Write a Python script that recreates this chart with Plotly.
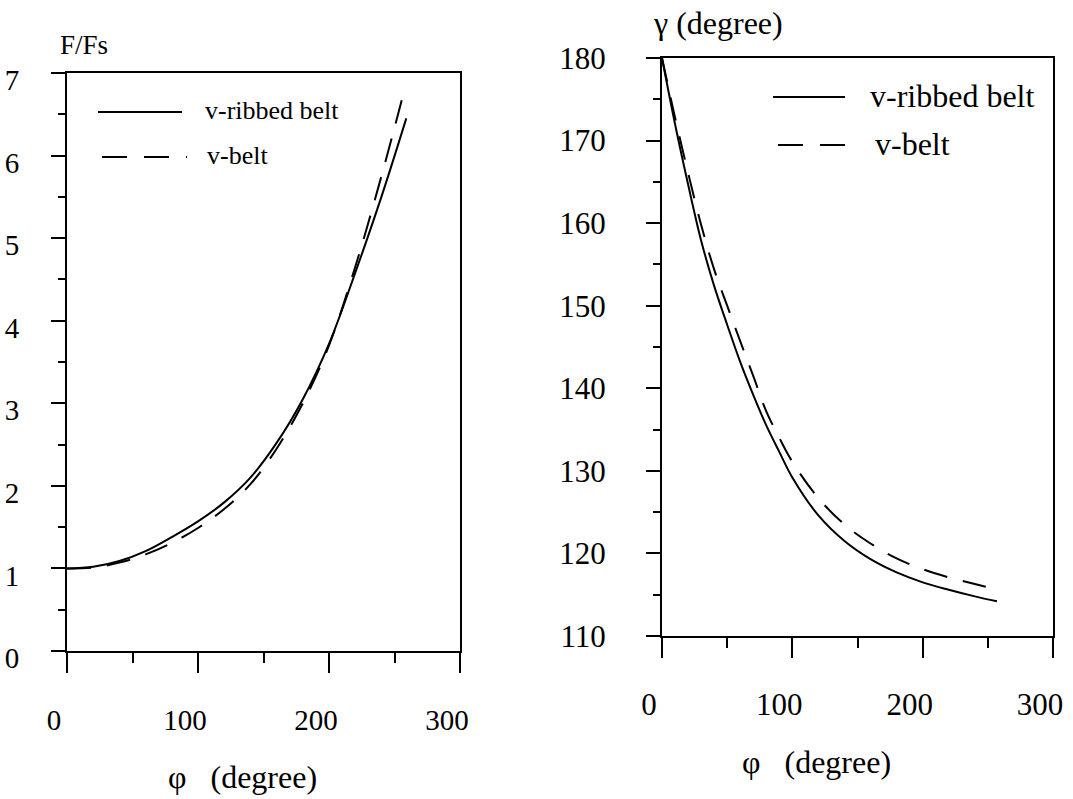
import plotly.graph_objects as go

W, H = 1073, 799

# ---------------- data ----------------
# Left panel: F/Fs versus wrap angle phi
phi_ribbed_F = [0, 20, 40, 60, 80, 100, 120, 140, 160, 180, 200, 220, 240, 259]
F_ribbed = [1.0, 1.02, 1.09, 1.21, 1.38, 1.57, 1.80, 2.10, 2.52, 3.05, 3.72, 4.58, 5.50, 6.45]
phi_vbelt_F = [0, 20, 40, 60, 80, 100, 120, 140, 160, 180, 200, 220, 240, 258]
F_vbelt = [1.0, 1.01, 1.07, 1.17, 1.31, 1.49, 1.72, 2.02, 2.45, 3.00, 3.70, 4.65, 5.75, 6.82]

# Right panel: gamma versus wrap angle phi
phi_ribbed_g = [0, 10, 20, 30, 40, 50, 60, 70, 80, 90, 100, 120, 140, 160, 180, 200, 220, 240, 257]
g_ribbed = [180, 172.0, 164.7, 157.9, 152.4, 147.7, 143.2, 139.2, 135.5, 132.3, 129.2,
            124.6, 121.5, 119.3, 117.7, 116.5, 115.6, 114.8, 114.2]
phi_vbelt_g = [0, 10, 20, 30, 40, 50, 60, 70, 80, 90, 100, 120, 140, 160, 180, 200, 220, 240, 253]
g_vbelt = [180, 172.8, 166.1, 159.8, 154.4, 150.0, 145.7, 141.5, 137.2, 134.0, 131.1,
           126.7, 123.5, 121.2, 119.4, 118.1, 117.1, 116.3, 115.8]

x_ticks = [0, 100, 200, 300]
left_y_ticks = [0, 1, 2, 3, 4, 5, 6, 7]
right_y_ticks = [110, 120, 130, 140, 150, 160, 170, 180]
series_names = ["v-ribbed belt", "v-belt"]

# ---------------- helpers ----------------
def px(x):
    return x / W

def py(y):
    return 1 - y / H

FONT = "Liberation Serif"
DASH = "24px,16px"

fig = go.Figure()
fig.add_trace(go.Scatter(x=phi_ribbed_F, y=F_ribbed, mode="lines", line=dict(color="black", width=2, shape="spline"),
                         xaxis="x", yaxis="y", name=series_names[0], showlegend=False))
fig.add_trace(go.Scatter(x=phi_vbelt_F, y=F_vbelt, mode="lines", line=dict(color="black", width=2, dash=DASH, shape="spline"),
                         xaxis="x", yaxis="y", name=series_names[1], showlegend=False))
fig.add_trace(go.Scatter(x=phi_ribbed_g, y=g_ribbed, mode="lines", line=dict(color="black", width=2, shape="spline"),
                         xaxis="x2", yaxis="y2", name=series_names[0], showlegend=False))
fig.add_trace(go.Scatter(x=phi_vbelt_g, y=g_vbelt, mode="lines", line=dict(color="black", width=2, dash=DASH, shape="spline"),
                         xaxis="x2", yaxis="y2", name=series_names[1], showlegend=False))

common = dict(showgrid=False, zeroline=False, showline=True, linecolor="black", linewidth=2,
              mirror=True, ticks="outside", tickcolor="black", tickwidth=2, automargin=False,
              ticklabeloverflow="allow")

fig.update_layout(
    width=W, height=H,
    margin=dict(l=0, r=0, t=0, b=0, autoexpand=False),
    paper_bgcolor="white", plot_bgcolor="white",
    font=dict(family=FONT, color="black"),
    xaxis=dict(domain=[px(67), px(460)], range=[0, 300], tickvals=x_ticks, ticklen=20,
               minor=dict(dtick=50, ticklen=10, tickwidth=2, tickcolor="black", ticks="outside"),
               tickfont=dict(size=29, family=FONT, color="black"), ticklabelstandoff=22,
               ticklabelshift=-13, anchor="y", **common),
    yaxis=dict(domain=[py(651), py(73)], range=[0, 7], tickvals=left_y_ticks, ticklen=14,
               minor=dict(dtick=0.5, ticklen=7, tickwidth=2, tickcolor="black", ticks="outside"),
               tickfont=dict(size=29, family=FONT, color="black"), ticklabelstandoff=26,
               ticklabelshift=7, anchor="x", **common),
    xaxis2=dict(domain=[px(662), px(1053)], range=[0, 300], tickvals=x_ticks, ticklen=20,
                minor=dict(dtick=50, ticklen=10, tickwidth=2, tickcolor="black", ticks="outside"),
                tickfont=dict(size=31, family=FONT, color="black"), ticklabelstandoff=20,
                ticklabelshift=-13, anchor="y2", **common),
    yaxis2=dict(domain=[py(636), py(58)], range=[110, 180], tickvals=right_y_ticks, ticklen=14,
                minor=dict(dtick=5, ticklen=7, tickwidth=2, tickcolor="black", ticks="outside"),
                tickfont=dict(size=31, family=FONT, color="black"), ticklabelstandoff=34,
                anchor="x2", **common),
)

# ---------------- legends (drawn) ----------------
shapes = [
    dict(type="line", xref="paper", yref="paper", x0=px(98), x1=px(182), y0=py(112), y1=py(112),
         line=dict(color="black", width=2)),
    dict(type="line", xref="paper", yref="paper", x0=px(102), x1=px(187), y0=py(157), y1=py(157),
         line=dict(color="black", width=2, dash="25px,17px")),
    dict(type="line", xref="paper", yref="paper", x0=px(773), x1=px(845), y0=py(97), y1=py(97),
         line=dict(color="black", width=2)),
    dict(type="line", xref="paper", yref="paper", x0=px(778), x1=px(845), y0=py(145), y1=py(145),
         line=dict(color="black", width=2, dash="25px,17px")),
]
fig.update_layout(shapes=shapes)

annotations = [
    dict(text=series_names[0], x=px(203), y=py(110), xanchor="left", yanchor="middle", size=26),
    dict(text=series_names[1], x=px(205), y=py(155), xanchor="left", yanchor="middle", size=26),
    dict(text=series_names[0], x=px(868), y=py(96), xanchor="left", yanchor="middle", size=32),
    dict(text=series_names[1], x=px(873), y=py(144), xanchor="left", yanchor="middle", size=32),
    # axis titles
    dict(text="F/Fs", x=px(58), y=py(45), xanchor="left", yanchor="middle", size=27),
    dict(text="γ (degree)", x=px(651), y=py(23), xanchor="left", yanchor="middle", size=32),
    dict(text="φ&nbsp;&nbsp;&nbsp;(degree)", x=px(243), y=py(777), xanchor="center", yanchor="middle", size=32),
    dict(text="φ&nbsp;&nbsp;&nbsp;(degree)", x=px(816), y=py(762), xanchor="center", yanchor="middle", size=32),
]
anns = []
for a in annotations:
    size = a.pop("size")
    a.update(xref="paper", yref="paper", showarrow=False, font=dict(family=FONT, color="black", size=size))
    anns.append(a)
fig.update_layout(annotations=anns)

fig.write_html("out.html", config={"displayModeBar": False},
               post_script="document.body.style.margin='0';")
